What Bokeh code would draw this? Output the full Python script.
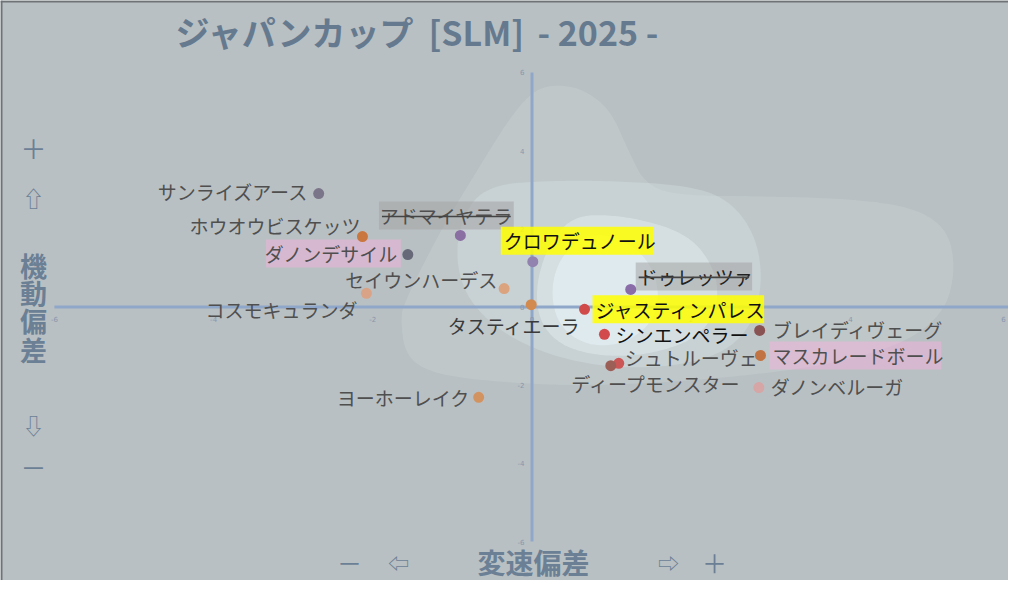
import numpy as np
from bokeh.plotting import figure
from bokeh.models import Range1d, Span
from bokeh.embed import file_html
from bokeh.resources import INLINE
from bokeh.core.properties import value

# ---------------- data ----------------
horses = ["サンライズアース", "ホウオウビスケッツ", "ダノンデサイル", "アドマイヤテラ",
          "セイウンハーデス", "コスモキュランダ", "クロワデュノール", "ドゥレッツァ",
          "タスティエーラ", "ジャスティンパレス", "シンエンペラー", "シュトルーヴェ",
          "ディープモンスター", "ブレイディヴェーグ", "マスカレードボール", "ダノンベルーガ",
          "ヨーホーレイク"]
speed_dev = [-2.68, -2.13, -1.56, -0.90, -0.35, -2.08, 0.01, 1.24,
             -0.01, 0.66, 0.91, 1.09, 0.99, 2.86, 2.87, 2.85, -0.67]
mobility_dev = [2.90, 1.80, 1.34, 1.83, 0.47, 0.35, 1.16, 0.45,
                0.06, -0.06, -0.70, -1.44, -1.50, -0.60, -1.24, -2.06, -2.31]
dot_colors = ["#7b7589", "#c9773f", "#676878", "#8a6fa2", "#dba47e", "#d9a387",
              "#9182b0", "#8a6ca8", "#d38a4f", "#d04a4a", "#d24a4c", "#cc5656",
              "#9c5f58", "#8a5353", "#c17442", "#d6a5a5", "#d29361"]

x_ticks = [-6, -4, -2, 0, 2, 4, 6]
y_ticks = [-6, -4, -2, 0, 2, 4, 6]

title_parts = ["ジャパンカップ", "[SLM]", "-\u00a02025\u00a0-"]

# density region outlines (data units)
dens1_x = [0.36, 0.67, 0.99, 1.21, 1.43, 1.87, 2.87, 4.00, 4.82, 5.23, 5.32, 5.19, 4.75, 3.88,
           2.74, 1.49, 0.36, -0.65, -1.28, -1.59, -1.65, -1.61, -1.28, -1.02, -0.65, -0.27, 0.04]
dens1_y = [5.69, 5.54, 5.03, 4.00, 3.11, 2.85, 2.83, 2.77, 2.54, 1.96, 0.93, -0.09, -0.86, -1.42,
           -1.75, -1.96, -2.01, -1.88, -1.68, -1.24, -0.35, 0.09, 1.44, 2.39, 3.62, 4.87, 5.58]
dens2_x = [-0.02, 0.86, 1.99, 2.49, 2.81, 2.90, 2.77, 2.37, 1.61, 0.73, -0.02, -0.58, -0.90, -0.96, -0.77, -0.46]
dens2_y = [3.21, 3.24, 3.11, 2.72, 1.83, 0.68, -0.47, -1.24, -1.57, -1.50, -1.06, -0.35, 0.55, 1.70, 2.72, 3.11]
dens3_x = [0.73, 1.36, 1.99, 2.31, 2.34, 2.12, 1.61, 0.99, 0.42, 0.11, 0.04, 0.17, 0.42]
dens3_y = [2.39, 2.26, 1.83, 0.93, 0.04, -0.73, -1.16, -1.29, -1.06, -0.47, 0.42, 1.44, 2.16]
dens4_x = [0.73, 1.17, 1.49, 1.61, 1.49, 1.11, 0.67, 0.33, 0.23, 0.36]
dens4_y = [1.91, 1.70, 1.14, 0.29, -0.47, -0.98, -0.98, -0.47, 0.42, 1.32]

# ---------------- label layout (styles, pixels) ----------------
label_align = ["right", "right", "right", "center", "right", "right", "left", "left",
               "center", "left", "left", "left", "center", "left", "left", "left", "right"]
label_dx = [-10, -2, -10, -14, -7, -9, -29, 8, -17, 11, 11, 6, 46, 13, 12, 12, -9]
label_dy = [-2, -11, -1, -20, -9, 16, -21, -13, 21, 0, 0, -6, 18, -1, 0, -1, 0]
label_color = ["#4f4f4f", "#4f4f4f", "#4f4f4f", "#4f4f4f", "#4f4f4f", "#4f4f4f", "#111111", "#222222",
               "#3a3a3a", "#111111", "#111111", "#4f4f4f", "#4f4f4f", "#4f4f4f", "#4f4f4f", "#4f4f4f", "#4f4f4f"]
highlight = {"ダノンデサイル": ("#ffb0e2", 0.42), "マスカレードボール": ("#ffb0e2", 0.42),
             "クロワデュノール": ("#ffff00", 0.85), "ジャスティンパレス": ("#ffff00", 0.85),
             "アドマイヤテラ": ("#a4a4a4", 0.55), "ドゥレッツァ": ("#a4a4a4", 0.55)}
struck = ["アドマイヤテラ", "ドゥレッツァ"]

W, H = 1008, 580
SX, SY = 79.6, 39.1          # pixels per unit
X0, Y0 = 531.5, 306.5        # pixel of origin


def X2x(X):
    return (X - X0) / SX


def Y2y(Y):
    return (Y0 - Y) / SY


def smooth(xs, ys, it=4):
    pts = np.column_stack([xs, ys]).astype(float)
    for _ in range(it):
        nxt = np.roll(pts, -1, axis=0)
        q = 0.75 * pts + 0.25 * nxt
        r = 0.25 * pts + 0.75 * nxt
        out = np.empty((2 * len(pts), 2))
        out[0::2] = q
        out[1::2] = r
        pts = out
    return pts[:, 0], pts[:, 1]


p = figure(width=W, height=H, output_backend="svg", toolbar_location=None,
           x_axis_location=None, y_axis_location=None, min_border=0,
           x_range=Range1d(X2x(0), X2x(W)), y_range=Range1d(Y2y(H), Y2y(0)))
p.background_fill_color = "#b9c0c3"
p.border_fill_color = "#b9c0c3"
p.outline_line_color = None
p.xgrid.visible = False
p.ygrid.visible = False

# density regions
for xs, ys, a in [(dens1_x, dens1_y, 0.13), (dens2_x, dens2_y, 0.22),
                  (dens3_x, dens3_y, 0.38), (dens4_x, dens4_y, 0.5)]:
    sx_, sy_ = smooth(xs, ys)
    p.patch(sx_, sy_, fill_color="#eaf6fb", fill_alpha=a, line_color=None)

# axis lines through origin
axis_col = "#8fa7c9"
p.segment(x0=[x_ticks[0]], y0=[0], x1=[x_ticks[-1]], y1=[0], line_color=axis_col, line_width=3)
p.segment(x0=[0], y0=[y_ticks[0]], x1=[0], y1=[y_ticks[-1]], line_color=axis_col, line_width=3)

tick_font = value("DejaVu Sans")
p.text(x=x_ticks[:-1], y=[-11.5 / SY] * (len(x_ticks) - 1), text=[str(t) for t in x_ticks[:-1]],
       text_align="center", text_baseline="middle", text_color="#8797ad",
       text_font=tick_font, text_font_size=value("7px"))
p.text(x=x_ticks[-1:], y=[-11.5 / SY], text=[str(x_ticks[-1])], x_offset=value(-4),
       text_align="right", text_baseline="middle", text_color="#8797ad",
       text_font=tick_font, text_font_size=value("7px"))
p.text(x=[-7.5 / SX] * len(y_ticks), y=y_ticks, text=[str(t) for t in y_ticks],
       text_align="right", text_baseline="middle", text_color="#8797ad",
       text_font=tick_font, text_font_size=value("7px"))

# label geometry
FS = 19
tx = [x + dx / SX for x, dx in zip(speed_dev, label_dx)]
ty = [y - dy / SY for y, dy in zip(mobility_dev, label_dy)]

bx, by, bw, bc, ba = [], [], [], [], []
sx0, sx1, sy = [], [], []
for i, name in enumerate(horses):
    w = len(name) * 18.4
    if label_align[i] == "left":
        left = tx[i]
    elif label_align[i] == "right":
        left = tx[i] - w / SX
    else:
        left = tx[i] - w / 2 / SX
    right = left + w / SX
    if name in highlight:
        bx.append((left + right) / 2)
        by.append(ty[i])
        bw.append(w + 6)
        bc.append(highlight[name][0])
        ba.append(highlight[name][1])
    if name in struck:
        sx0.append(left)
        sx1.append(right)
        sy.append(ty[i] - 1 / SY)

p.rect(x=bx, y=by, width=bw, height=28, width_units="screen", height_units="screen",
       fill_color=bc, fill_alpha=ba, line_color=None)

# points
p.scatter(x=speed_dev, y=mobility_dev, size=11, fill_color=dot_colors, line_color=None)

# labels
lab_font = value("Noto Sans CJK JP")
p.text(x=tx, y=ty, text=horses, text_align=label_align, text_baseline="middle",
       text_color=label_color, text_font=lab_font, text_font_size=value("%dpx" % FS))
p.segment(x0=sx0, y0=sy, x1=sx1, y1=sy, line_color="#444444", line_width=1.6)

# title
title_col = "#667a8f"
for t, X in zip(title_parts, [175, 428, 537]):
    p.text(x=[X2x(X)], y=[Y2y(31)], text=[t], text_align="left",
           text_baseline="middle", text_color=title_col, text_font=lab_font,
           text_font_size=value("34px"), text_font_style="bold")

# axis titles
ax_col = "#6b7f95"
left_chars = ["＋", "⇧", "機", "動", "偏", "差", "⇩", "－"]
left_Y = [147, 196, 265, 292, 320, 349, 423, 466]
left_sz = ["26px", "22px", "27px", "27px", "27px", "27px", "22px", "26px"]
left_st = ["normal", "normal", "bold", "bold", "bold", "bold", "normal", "normal"]
for ch, Y, sz, st in zip(left_chars, left_Y, left_sz, left_st):
    p.text(x=[X2x(33)], y=[Y2y(Y)], text=[ch], text_align="center", text_baseline="middle",
           text_color=ax_col, text_font=lab_font, text_font_size=value(sz), text_font_style=st)

bottom_texts = ["－", "⇦", "変速偏差", "⇨", "＋"]
bottom_X = [349, 398, 533, 668, 714]
bottom_sz = ["25px", "21px", "28px", "21px", "25px"]
bottom_st = ["normal", "normal", "bold", "normal", "normal"]
for t, X, sz, st in zip(bottom_texts, bottom_X, bottom_sz, bottom_st):
    p.text(x=[X2x(X)], y=[Y2y(561)], text=[t], text_align="center", text_baseline="middle",
           text_color=ax_col, text_font=lab_font, text_font_size=value(sz), text_font_style=st)

# frame border (left/top edges)
p.add_layout(Span(location=X2x(1), dimension="height", line_color="#6f7376", line_width=2))
p.add_layout(Span(location=Y2y(1), dimension="width", line_color="#6f7376", line_width=2))

open("out.html", "w").write(file_html(p, INLINE))
